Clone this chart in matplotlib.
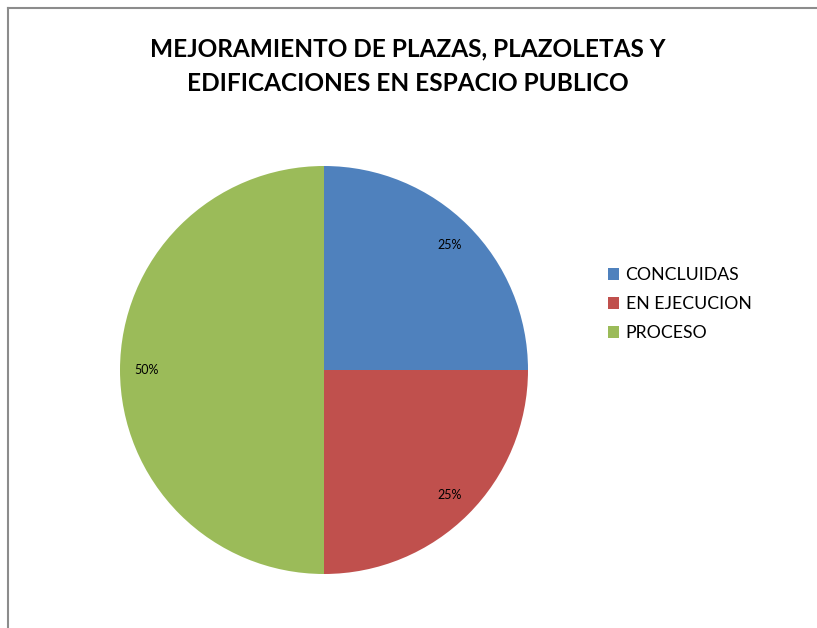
import matplotlib
matplotlib.use("Agg")
import matplotlib.pyplot as plt
from matplotlib.lines import Line2D
from matplotlib.patches import Patch

categories = ["CONCLUIDAS", "EN EJECUCION", "PROCESO"]
values = [25, 25, 50]
colors = ["#4F81BD", "#C0504D", "#9BBB59"]
title = "MEJORAMIENTO DE PLAZAS, PLAZOLETAS Y\nEDIFICACIONES EN ESPACIO PUBLICO"

W, H = 817, 628
fig = plt.figure(figsize=(W / 100, H / 100), dpi=100)
fig.patch.set_facecolor("white")

# border (top and left)
fig.add_artist(Line2D([8 / W, 1], [1 - 8 / H, 1 - 8 / H], color="#8c8c8c", lw=1.5))
fig.add_artist(Line2D([8 / W, 8 / W], [0, 1 - 8 / H], color="#8c8c8c", lw=1.5))

cx, cy, r = 324, 370, 204
ax = fig.add_axes([(cx - r) / W, (H - cy - r) / H, 2 * r / W, 2 * r / H])
wedges, texts, autotexts = ax.pie(
    values, colors=colors, startangle=90, counterclock=False,
    autopct=lambda p: f"{p:.0f}%", pctdistance=0.87,
    textprops=dict(fontsize=9, family="Lato", color="black"),
    wedgeprops=dict(linewidth=0),
)
ax.set_xlim(-1, 1)
ax.set_ylim(-1, 1)
ax.set_aspect("equal")
ax.axis("off")

fig.text(408 / W, 1 - 66 / H, title, ha="center", va="center",
         fontsize=17.6, fontweight="bold", family="Lato", linespacing=1.62)

handles = [Patch(facecolor=c, edgecolor="none") for c in colors]
leg = fig.legend(handles, categories, loc="upper left",
                 bbox_to_anchor=(592 / W, 1 - 251 / H), frameon=False,
                 prop=dict(family="Lato", size=12.7), handlelength=0.64,
                 handleheight=0.64, handletextpad=0.36, labelspacing=0.75)

fig.savefig("out.png", dpi=100)
